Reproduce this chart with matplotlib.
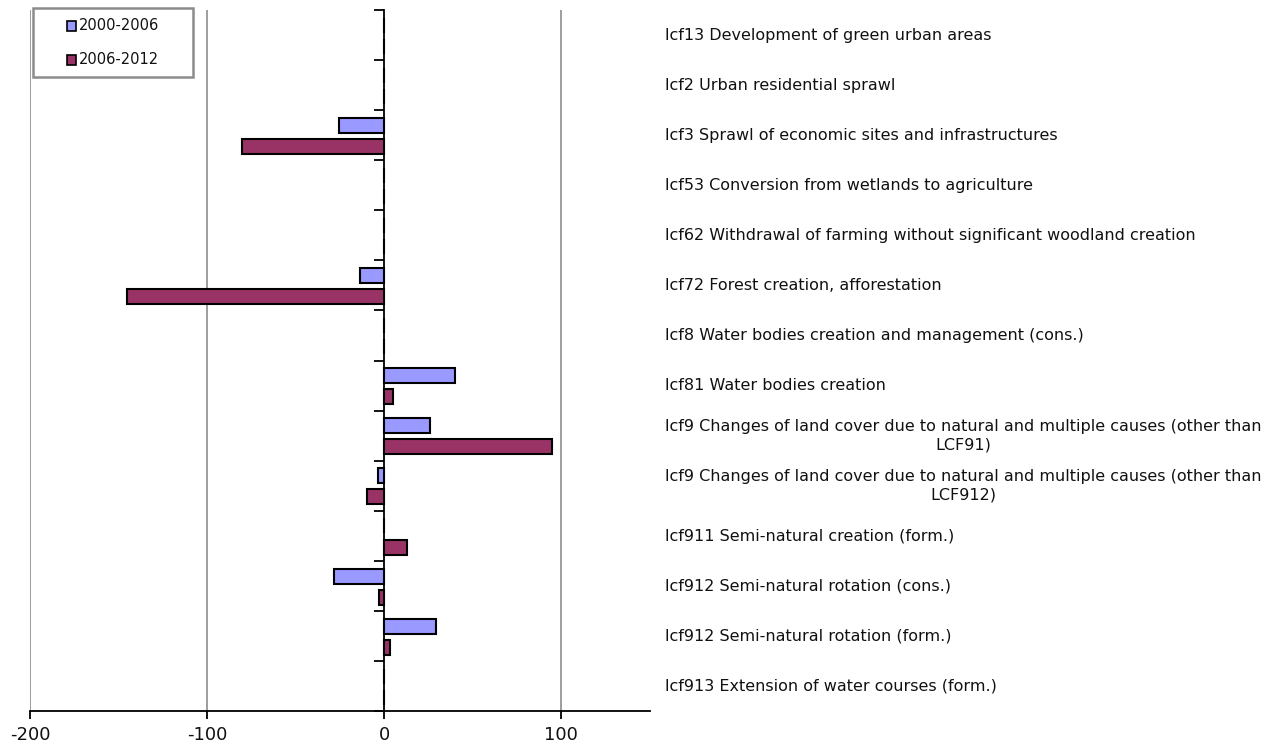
import matplotlib
matplotlib.use("Agg")
import matplotlib.pyplot as plt
from matplotlib.transforms import blended_transform_factory
from matplotlib.patches import Rectangle

categories = [
    "lcf13 Development of green urban areas",
    "lcf2 Urban residential sprawl",
    "lcf3 Sprawl of economic sites and infrastructures",
    "lcf53 Conversion from wetlands to agriculture",
    "lcf62 Withdrawal of farming without significant woodland creation",
    "lcf72 Forest creation, afforestation",
    "lcf8 Water bodies creation and management (cons.)",
    "lcf81 Water bodies creation",
    "lcf9 Changes of land cover due to natural and multiple causes (other than\nLCF91)",
    "lcf9 Changes of land cover due to natural and multiple causes (other than\nLCF912)",
    "lcf911 Semi-natural creation (form.)",
    "lcf912 Semi-natural rotation (cons.)",
    "lcf912 Semi-natural rotation (form.)",
    "lcf913 Extension of water courses (form.)",
]
series_labels = ["2000-2006", "2006-2012"]
values_2000_2006 = [0, 0, -25.5, 0, 0, -13.6, 0, 40.2, 26.0, -3.4, 0, -28.3, 29.4, 0]
values_2006_2012 = [0, 0, -80.4, 0, 0, -145.4, 0, 5.1, 94.5, -9.6, 13.0, -2.8, 3.4, 0]
x_ticks = [-200, -100, 0, 100]

blue = "#9999FF"
wine = "#993366"
grid_grey = "#8c8c8c"

W, H = 1274, 749
fig = plt.figure(figsize=(W / 100, H / 100), dpi=100)
ax = fig.add_axes([30 / W, 1 - 711 / H, 620 / W, 701 / H])

rows = list(range(len(categories)))
bar_h = 0.30
ax.barh([r - 0.195 for r in rows], values_2000_2006, height=bar_h,
        color=blue, edgecolor="black", linewidth=1.5, zorder=3)
ax.barh([r + 0.225 for r in rows], values_2006_2012, height=bar_h,
        color=wine, edgecolor="black", linewidth=1.5, zorder=3)

ax.set_xlim(-200, 150)
ax.set_ylim(len(categories) - 0.5, -0.5)

# vertical gridlines
for x in [-200, -100, 100]:
    ax.axvline(x, color=grid_grey, linewidth=1.2, zorder=1)

# value axis spine at zero, category ticks at row boundaries
ax.spines["left"].set_position(("data", 0))
ax.spines["left"].set_color("black")
ax.spines["left"].set_linewidth(1.3)
ax.spines["left"].set_zorder(4)
ax.spines["top"].set_visible(False)
ax.spines["right"].set_visible(False)
ax.spines["bottom"].set_linewidth(1.3)
ax.set_yticks([r - 0.5 for r in rows] + [len(categories) - 0.5])
ax.set_yticklabels([])
ax.tick_params(axis="y", direction="out", length=7, width=1.3, color="black")

ax.set_xticks(x_ticks)
ax.set_xticklabels([str(t) for t in x_ticks], fontsize=13, color="#111111")
ax.tick_params(axis="x", direction="out", length=6, width=1.3, pad=5)

# category labels on the right
trans = blended_transform_factory(fig.transFigure, ax.transData)
for r, lab in zip(rows, categories):
    ax.text(665 / W, r, lab, transform=trans, ha="left", va="center",
            multialignment="center", fontsize=11.5, linespacing=1.25,
            color="#111111", clip_on=False)

# legend box
fx = lambda px: px / W
fy = lambda py: 1 - py / H
fig.patches.append(Rectangle((fx(33), fy(77)), fx(160), 69 / H, transform=fig.transFigure,
                             facecolor="white", edgecolor=grid_grey, linewidth=1.8, zorder=5))
for yc, lab, col in [(26, series_labels[0], blue), (60, series_labels[1], wine)]:
    fig.patches.append(Rectangle((fx(67), fy(yc + 4.5)), fx(9), 9 / H, transform=fig.transFigure,
                                 facecolor=col, edgecolor="black", linewidth=1.2, zorder=6))
    fig.text(fx(79), fy(yc), lab, ha="left", va="center", fontsize=10.5,
             color="#111111", zorder=6)

fig.savefig("out.png", dpi=100, facecolor="white")
